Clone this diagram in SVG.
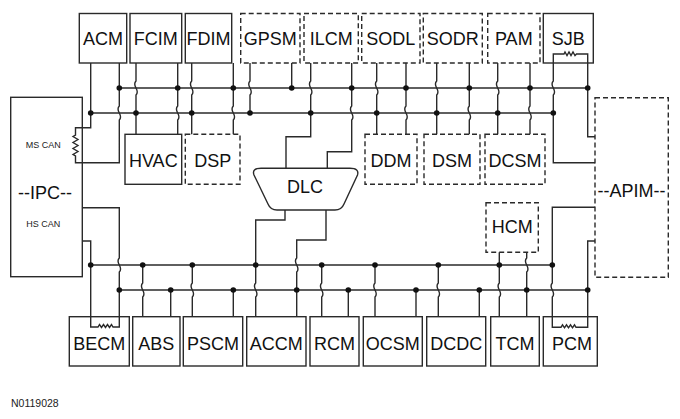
<svg xmlns="http://www.w3.org/2000/svg" width="680" height="419" viewBox="0 0 680 419">
<style>
.box{fill:#fff;stroke:#2a2a2a;stroke-width:1.4}
.dash{fill:#fff;stroke:#2a2a2a;stroke-width:1.4;stroke-dasharray:5 3}
.w{fill:none;stroke:#2a2a2a;stroke-width:1.4;stroke-linejoin:miter}
.dot{fill:#111}
.t{font-family:"Liberation Sans",Arial,sans-serif;font-size:18px;fill:#111;text-anchor:middle}
.s{font-family:"Liberation Sans",Arial,sans-serif;font-size:9px;fill:#222;text-anchor:middle}
.n{font-family:"Liberation Sans",Arial,sans-serif;font-size:10.5px;fill:#222}
</style>
<rect width="680" height="419" fill="#fff"/>

<g id="IPC">
<rect class="box" x="10.7" y="97.3" width="71.6" height="179.4"/>
<text class="s" x="43.3" y="148.3">MS CAN</text>
<text class="t" x="45" y="199">--IPC--</text>
<text class="s" x="43.3" y="226.7">HS CAN</text>
</g>
<g id="APIM">
<rect class="dash" x="595" y="97.7" width="73.3" height="179.6"/>
<text class="t" x="631.5" y="197.3">--APIM--</text>
</g>

<g id="ACM"><rect class="box" x="79.3" y="13.5" width="47.4" height="49.5"/><text class="t" x="103" y="45">ACM</text></g>
<g id="FCIM"><rect class="box" x="130" y="13.5" width="51.7" height="49.5"/><text class="t" x="155.8" y="45">FCIM</text></g>
<g id="FDIM"><rect class="box" x="185.3" y="13.5" width="46.4" height="49.5"/><text class="t" x="208.5" y="45">FDIM</text></g>
<g id="GPSM"><rect class="dash" x="240.7" y="13.5" width="59.3" height="49.5"/><text class="t" x="270.3" y="45">GPSM</text></g>
<g id="ILCM"><rect class="dash" x="304" y="13.5" width="54.3" height="49.5"/><text class="t" x="331.2" y="45">ILCM</text></g>
<g id="SODL"><rect class="dash" x="361.7" y="13.5" width="58.3" height="49.5"/><text class="t" x="390.8" y="45">SODL</text></g>
<g id="SODR"><rect class="dash" x="423.3" y="13.5" width="59" height="49.5"/><text class="t" x="452.8" y="45">SODR</text></g>
<g id="PAM"><rect class="dash" x="487.7" y="13.5" width="52.3" height="49.5"/><text class="t" x="513.8" y="45">PAM</text></g>
<g id="SJB"><rect class="box" x="543.3" y="13.5" width="50" height="49.5"/><text class="t" x="568.3" y="44.5">SJB</text></g>

<g id="HVAC"><rect class="box" x="125" y="134.3" width="56.7" height="50"/><text class="t" x="153.3" y="166.7">HVAC</text></g>
<g id="DSP"><rect class="dash" x="185.3" y="134.3" width="54.7" height="50"/><text class="t" x="212.7" y="166.7">DSP</text></g>
<g id="DDM"><rect class="dash" x="365" y="134.3" width="52" height="50"/><text class="t" x="391" y="166.7">DDM</text></g>
<g id="DSM"><rect class="dash" x="424" y="134.3" width="56" height="50"/><text class="t" x="452" y="166.7">DSM</text></g>
<g id="DCSM"><rect class="dash" x="485" y="134.3" width="60" height="50"/><text class="t" x="515" y="166.7">DCSM</text></g>

<g id="DLC">
<path class="box" d="M261,168.3 H350 Q359.5,168.3 357.5,175 L344,204 Q341.5,210 335,210 H277 Q270.5,210 268,204 L254,175 Q251.5,168.3 261,168.3 Z"/>
<text class="t" x="305" y="193">DLC</text>
</g>

<g id="HCM"><rect class="dash" x="486" y="202.7" width="52.3" height="49.6"/><text class="t" x="512.2" y="233.3">HCM</text></g>

<g id="BECM"><rect class="box" x="69.3" y="316.7" width="60" height="49.3"/><text class="t" x="99.3" y="350">BECM</text></g>
<g id="ABS"><rect class="box" x="132.7" y="316.7" width="47.3" height="49.3"/><text class="t" x="156.3" y="350">ABS</text></g>
<g id="PSCM"><rect class="box" x="183.3" y="316.7" width="59.4" height="49.3"/><text class="t" x="213" y="350">PSCM</text></g>
<g id="ACCM"><rect class="box" x="246.7" y="316.7" width="59.3" height="49.3"/><text class="t" x="276.3" y="350">ACCM</text></g>
<g id="RCM"><rect class="box" x="310" y="316.7" width="49" height="49.3"/><text class="t" x="334.5" y="350">RCM</text></g>
<g id="OCSM"><rect class="box" x="363.3" y="316.7" width="59" height="49.3"/><text class="t" x="392.8" y="350">OCSM</text></g>
<g id="DCDC"><rect class="box" x="426.7" y="316.7" width="59" height="49.3"/><text class="t" x="456.2" y="350">DCDC</text></g>
<g id="TCM"><rect class="box" x="490.7" y="316.7" width="48.6" height="49.3"/><text class="t" x="515" y="350">TCM</text></g>
<g id="PCM"><rect class="box" x="543.3" y="316.7" width="54" height="49.3"/><text class="t" x="572" y="350">PCM</text></g>

<g id="connectors">
<!-- buses -->
<path class="w" d="M119.3,88 H587.7"/>
<path class="w" d="M90.7,113 H553.3"/>
<path class="w" d="M90.7,265 H552.3"/>
<path class="w" d="M119.3,290 H587.7"/>
<!-- top: ACM + IPC MS CAN -->
<path class="w" d="M90.7,63 V127.7 H75.5 V135 l-2.5,1.5 l5,3 l-5,3 l5,3 l-5,3 l5,3 l-5,3 l2.5,1.5 V162.7 H119.3 V120 c5,-5 -5,-9 0,-14 V63"/>
<path class="w" d="M136,63 V81 c-5,5 5,9 0,14 V134.3"/>
<path class="w" d="M177.7,63 V106 c-5,5 5,9 0,14 V134.3"/>
<path class="w" d="M191.7,63 V81 c-5,5 5,9 0,14 V134.3"/>
<path class="w" d="M233.3,63 V106 c-5,5 5,9 0,14 V134.3"/>
<path class="w" d="M250,63 V81 c-5,5 5,9 0,14 V113"/>
<path class="w" d="M291.7,63 V88"/>
<path class="w" d="M310.7,63 V81 c-5,5 5,9 0,14 V136.7 H286 V168.3"/>
<path class="w" d="M351.7,63 V106 c-5,5 5,9 0,14 V151.7 H327.3 V168.3"/>
<path class="w" d="M376.7,63 V81 c-5,5 5,9 0,14 V134.3"/>
<path class="w" d="M406,63 V106 c-5,5 5,9 0,14 V134.3"/>
<path class="w" d="M436.7,63 V81 c-5,5 5,9 0,14 V134.3"/>
<path class="w" d="M469.3,63 V106 c-5,5 5,9 0,14 V134.3"/>
<path class="w" d="M497.7,63 V81 c-5,5 5,9 0,14 V134.3"/>
<path class="w" d="M530,63 V106 c-5,5 5,9 0,14 V134.3"/>
<!-- SJB -->
<path class="w" d="M595,162.7 H553.3 V95 c5,-5 -5,-9 0,-14 V54 H564 L565,52 L567,55.5 L569,52 L571,55.5 L573,52 L575,55.5 L576.5,54 H587.7 V136.7 H595"/>
<!-- bottom: BECM + IPC HS CAN -->
<path class="w" d="M82.3,207.7 H119.3 V258 c-5,5 5,9 0,14 V327 H113 L111.5,324.5 L109.5,327.5 L107.5,324.5 L105.5,327.5 L103.5,324.5 L101.5,327.5 L99.5,324.5 L98,327 H90.7 V241 H82.3"/>
<path class="w" d="M142.7,265 V283 c-5,5 5,9 0,14 V316.7"/>
<path class="w" d="M170.7,290 V316.7"/>
<path class="w" d="M192.3,265 V283 c-5,5 5,9 0,14 V316.7"/>
<path class="w" d="M233.3,290 V316.7"/>
<path class="w" d="M285,210 V220 H255.7 V283 c-5,5 5,9 0,14 V316.7"/>
<path class="w" d="M326,210 V240 H296.7 V258 c-5,5 5,9 0,14 V316.7"/>
<path class="w" d="M321.7,265 V283 c-5,5 5,9 0,14 V316.7"/>
<path class="w" d="M348.3,290 V316.7"/>
<path class="w" d="M375,265 V283 c-5,5 5,9 0,14 V316.7"/>
<path class="w" d="M416,290 V316.7"/>
<path class="w" d="M438.3,265 V283 c-5,5 5,9 0,14 V316.7"/>
<path class="w" d="M479.3,290 V316.7"/>
<path class="w" d="M499.3,252.3 V283 c-5,5 5,9 0,14 V316.7"/>
<path class="w" d="M526.7,252.3 V258 c-5,5 5,9 0,14 V316.7"/>
<!-- PCM + APIM -->
<path class="w" d="M595,207.3 H552.3 V283 c-5,5 5,9 0,14 V327.3 H561 L562.5,324.8 L564.5,327.8 L566.5,324.8 L568.5,327.8 L570.5,324.8 L572.5,327.8 L574.5,324.8 L576,327.3 H587.7 V241 H595"/>
<!-- dots -->
<g class="dot">
<circle cx="90.7" cy="113" r="2.8"/><circle cx="119.3" cy="88" r="2.8"/>
<circle cx="136" cy="113" r="2.8"/><circle cx="177.7" cy="88" r="2.8"/>
<circle cx="191.7" cy="113" r="2.8"/><circle cx="233.3" cy="88" r="2.8"/>
<circle cx="250" cy="113" r="2.8"/><circle cx="291.7" cy="88" r="2.8"/>
<circle cx="310.7" cy="113" r="2.8"/><circle cx="351.7" cy="88" r="2.8"/>
<circle cx="376.7" cy="113" r="2.8"/><circle cx="406" cy="88" r="2.8"/>
<circle cx="436.7" cy="113" r="2.8"/><circle cx="469.3" cy="88" r="2.8"/>
<circle cx="497.7" cy="113" r="2.8"/><circle cx="530" cy="88" r="2.8"/>
<circle cx="553.3" cy="113" r="2.8"/><circle cx="587.7" cy="88" r="2.8"/>
<circle cx="90.7" cy="265" r="2.8"/><circle cx="119.3" cy="290" r="2.8"/>
<circle cx="142.7" cy="265" r="2.8"/><circle cx="170.7" cy="290" r="2.8"/>
<circle cx="192.3" cy="265" r="2.8"/><circle cx="233.3" cy="290" r="2.8"/>
<circle cx="255.7" cy="265" r="2.8"/><circle cx="296.7" cy="290" r="2.8"/>
<circle cx="321.7" cy="265" r="2.8"/><circle cx="348.3" cy="290" r="2.8"/>
<circle cx="375" cy="265" r="2.8"/><circle cx="416" cy="290" r="2.8"/>
<circle cx="438.3" cy="265" r="2.8"/><circle cx="479.3" cy="290" r="2.8"/>
<circle cx="499.3" cy="265" r="2.8"/><circle cx="526.7" cy="290" r="2.8"/>
<circle cx="552.3" cy="265" r="2.8"/><circle cx="587.7" cy="290" r="2.8"/>
</g>
</g>

<text class="n" x="11" y="407.3">N0119028</text>
</svg>
